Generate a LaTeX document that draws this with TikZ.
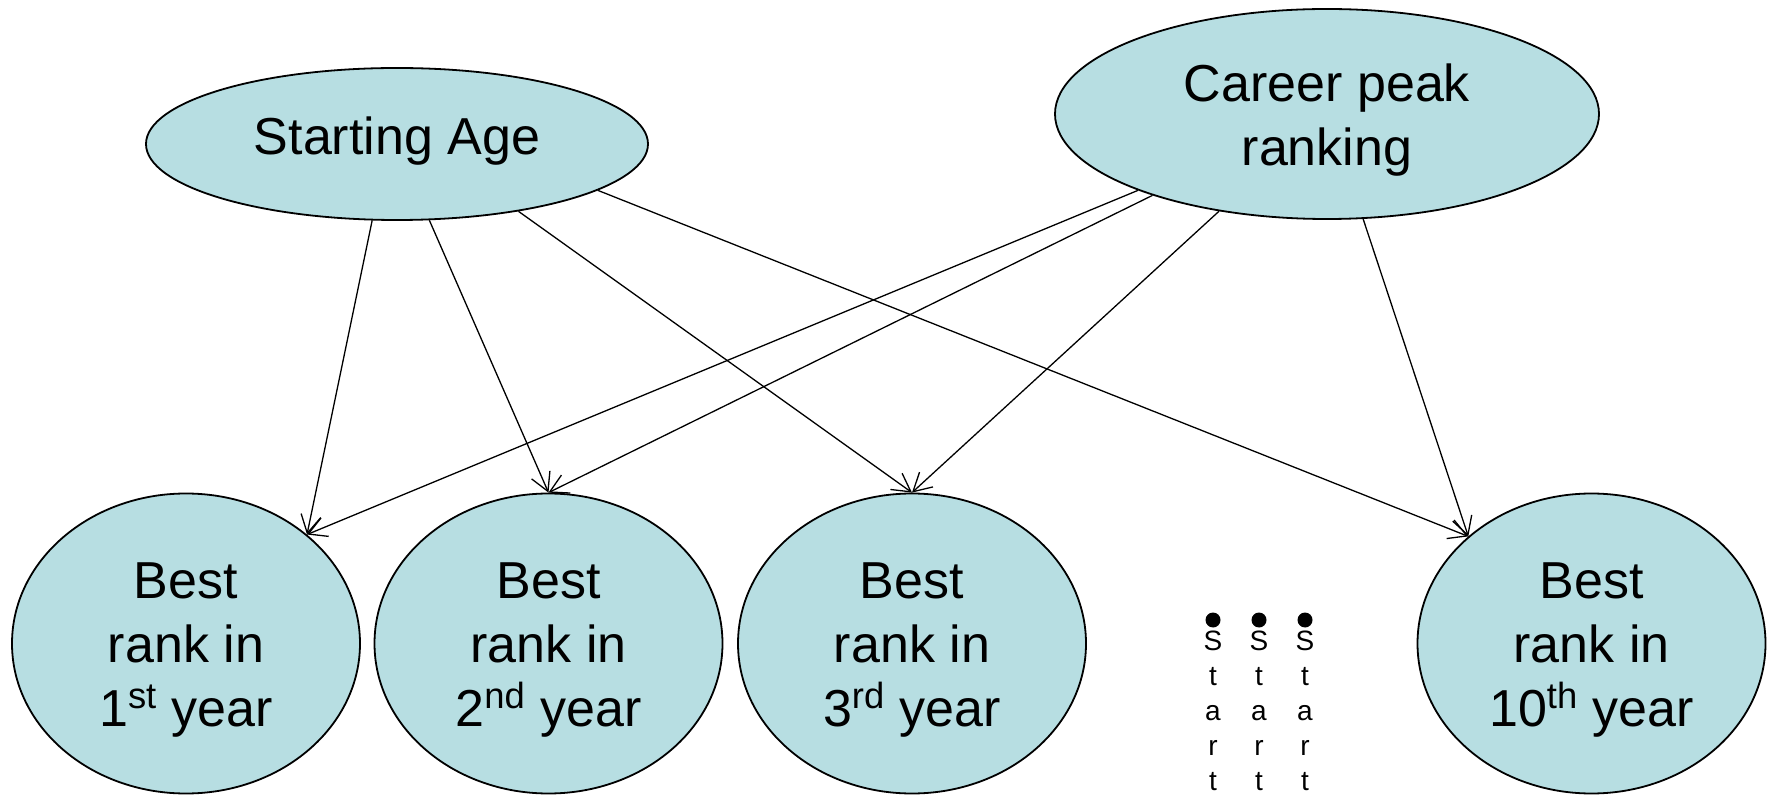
\documentclass[tikz,border=0pt]{standalone}
\usepackage{fontspec}
\setmainfont{Liberation Sans}
\usetikzlibrary{shapes.geometric,arrows.meta}
\definecolor{nodefill}{RGB}{183,222,226}
\begin{document}
\begin{tikzpicture}[x=0.5pt,y=-0.5pt,
  ell/.style={ellipse,draw=black,line width=0.9pt,fill=nodefill,inner sep=0pt},
  big/.style={font=\fontsize{26}{32}\selectfont,align=center},
  small/.style={font=\fontsize{14}{17}\selectfont,inner sep=0pt},
  arr/.style={-{Straight Barb[length=9pt,width=10pt]},line width=0.65pt}]
\useasboundingbox (0,0) rectangle (1772,796);
\node[ell,minimum width=251pt,minimum height=76pt,label={[big,yshift=1.5pt]center:Starting Age}] (sa) at (397,144) {};
\node[ell,minimum width=272pt,minimum height=105pt,label={[big,yshift=-3pt]center:{Career peak\\ranking}}] (cp) at (1327,114) {};
\node[ell,minimum width=174pt,minimum height=150pt,label={[big,yshift=-3.5pt]center:{Best\\rank in\\1\textsuperscript{st} year}}] (b1) at (186,643.5) {};
\node[ell,minimum width=174pt,minimum height=150pt,label={[big,yshift=-3.5pt]center:{Best\\rank in\\2\textsuperscript{nd} year}}] (b2) at (548.5,643.5) {};
\node[ell,minimum width=174pt,minimum height=150pt,label={[big,yshift=-3.5pt]center:{Best\\rank in\\3\textsuperscript{rd} year}}] (b3) at (912,643.5) {};
\node[ell,minimum width=174pt,minimum height=150pt,label={[big,yshift=-3.5pt]center:{Best\\rank in\\10\textsuperscript{th} year}}] (b4) at (1591.5,643.5) {};
\draw[arr] (sa.-108) -- (b1.42);
\draw[arr] (sa.-67) -- (b2.north);
\draw[arr] (sa.-29) -- (b3.north);
\draw[arr] (sa.-13) -- (b4.139);
\draw[arr] (cp.-158) -- (b1.42);
\draw[arr] (cp.-155) -- (b2.north);
\draw[arr] (cp.-138) -- (b3.north);
\draw[arr] (cp.-71) -- (b4.139);
\foreach \x [count=\i] in {1213,1259,1305} {
  \fill (\x,620) circle[radius=3.75pt];
  \foreach \ch [count=\k from 0] in {S,t,a,r,t}
    \node[small,anchor=base] (s\i\k) at (\x,650+35*\k) {\ch};
}
\end{tikzpicture}
\end{document}
